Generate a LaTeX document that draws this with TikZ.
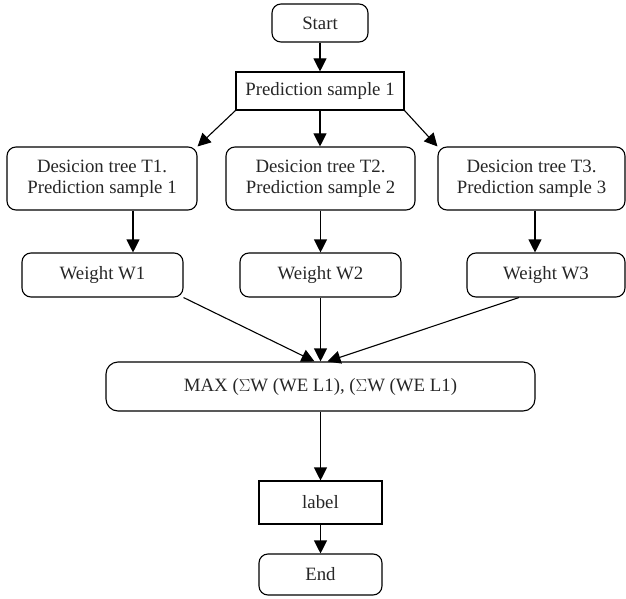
\documentclass[tikz,border=0pt]{standalone}
\usepackage{fontspec}
\setmainfont{Liberation Serif}
\usetikzlibrary{arrows.meta,positioning}
\begin{document}
\begin{tikzpicture}[x=1pt,y=-1pt,
  font=\fontsize{18.8}{21}\selectfont,
  box/.style={draw=black,line width=1.1pt,align=center,inner sep=0pt,text=black!85},
  rbox/.style={box,rounded corners=9pt},
  arr/.style={draw=black,line width=1.1pt,-{Triangle[length=13pt,width=13pt]}}]
\useasboundingbox (0,0) rectangle (626,599);
\node[rbox,minimum width=96pt,minimum height=38pt] (start) at (320,23) {Start};
\node[box,minimum width=168pt,minimum height=38pt] (pred) at (320,91) {Prediction sample 1};
\node[rbox,minimum width=190pt,minimum height=63pt] (t1) at (102,178.5) {Desicion tree T1.\\Prediction sample 1};
\node[rbox,minimum width=189pt,minimum height=63pt] (t2) at (320.5,178.5) {Desicion tree T2.\\Prediction sample 2};
\node[rbox,minimum width=187pt,minimum height=63pt] (t3) at (531.5,178.5) {Desicion tree T3.\\Prediction sample 3};
\node[rbox,minimum width=161pt,minimum height=44pt] (w1) at (102.5,275) {Weight W1};
\node[rbox,minimum width=161pt,minimum height=44pt] (w2) at (320.5,275) {Weight W2};
\node[rbox,minimum width=158pt,minimum height=44pt] (w3) at (546,275) {Weight W3};
\node[rbox,rounded corners=12pt,minimum width=429pt,minimum height=49pt] (max) at (320.5,386.5) {MAX ($\Sigma$W (WE L1), ($\Sigma$W (WE L1)};
\node[box,minimum width=123pt,minimum height=43pt] (label) at (320.5,502.5) {label};
\node[rbox,minimum width=123pt,minimum height=41pt] (end) at (320.5,574.5) {End};
\draw[arr] (start.south) -- (start.south |- pred.north);
\draw[arr] (pred.south west) -- (t1.north east);
\draw[arr] (pred.south) -- (pred.south |- t2.north);
\draw[arr] (pred.south east) -- (t3.north west);
\draw[arr] ([xshift=31pt]t1.south) -- ([xshift=31pt]t1.south |- w1.north);
\draw[arr] (t2.south) -- (t2.south |- w2.north);
\draw[arr] ([xshift=3.5pt]t3.south) -- ([xshift=3.5pt]t3.south |- w3.north);
\draw[arr] (w1.south east) -- ([xshift=-6pt]max.north);
\draw[arr] (w2.south) -- (w2.south |- max.north);
\draw[arr] ([xshift=-27pt]w3.south) -- ([xshift=7pt]max.north);
\draw[arr] (max.south) -- (max.south |- label.north);
\draw[arr] (label.south) -- (label.south |- end.north);
\end{tikzpicture}
\end{document}
